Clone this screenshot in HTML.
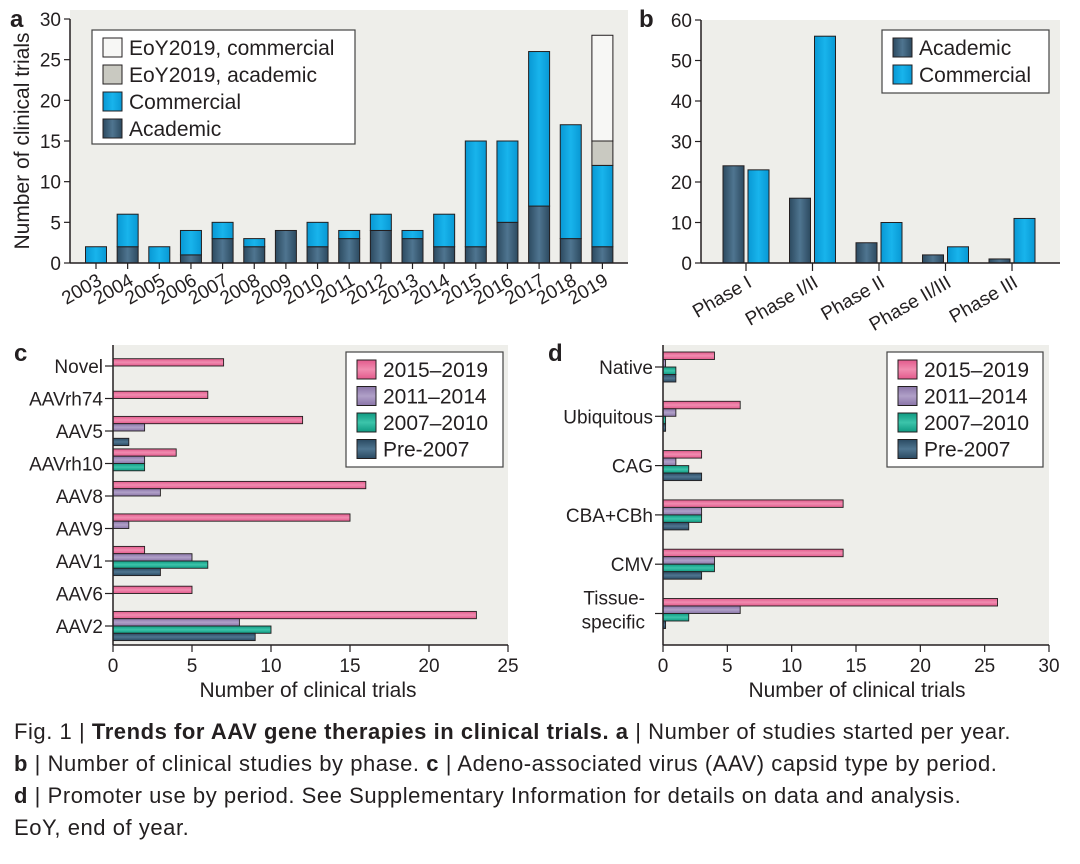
<!DOCTYPE html>
<html><head><meta charset="utf-8">
<style>
body{margin:0;background:#fff;width:1080px;height:864px;overflow:hidden;font-family:"Liberation Sans",sans-serif}
svg text{font-family:"Liberation Sans",sans-serif;fill:#231f20}
.cap{position:absolute;left:14px;top:716px;font-family:"Liberation Sans",sans-serif;font-size:22px;line-height:32px;color:#231f20;letter-spacing:0.55px;white-space:nowrap}
</style></head><body>
<svg id="fig" width="1080" height="700" style="position:absolute;left:0;top:0">
<defs>
<linearGradient id="gAc" x1="0" x2="1"><stop offset="0" stop-color="#2c4a60"/><stop offset="0.5" stop-color="#4f7590"/><stop offset="1" stop-color="#2c4a60"/></linearGradient>
<linearGradient id="gCo" x1="0" x2="1"><stop offset="0" stop-color="#0898d4"/><stop offset="0.5" stop-color="#18b4ec"/><stop offset="1" stop-color="#0898d4"/></linearGradient>
<linearGradient id="gPk" x1="0" x2="0" y1="0" y2="1"><stop offset="0" stop-color="#e35a8c"/><stop offset="0.5" stop-color="#f08cb0"/><stop offset="1" stop-color="#e35a8c"/></linearGradient>
<linearGradient id="gPu" x1="0" x2="0" y1="0" y2="1"><stop offset="0" stop-color="#8a75a8"/><stop offset="0.5" stop-color="#b0a0c8"/><stop offset="1" stop-color="#8a75a8"/></linearGradient>
<linearGradient id="gGr" x1="0" x2="0" y1="0" y2="1"><stop offset="0" stop-color="#0f9a82"/><stop offset="0.5" stop-color="#3cc4aa"/><stop offset="1" stop-color="#0f9a82"/></linearGradient>
<linearGradient id="gNv" x1="0" x2="0" y1="0" y2="1"><stop offset="0" stop-color="#2a4a62"/><stop offset="0.5" stop-color="#4f7590"/><stop offset="1" stop-color="#2a4a62"/></linearGradient>
</defs>
</svg>
<div class="cap">Fig. 1 | <b>Trends for AAV gene therapies in clinical trials. a</b> | Number of studies started per year.<br><b>b</b> | Number of clinical studies by phase. <b>c</b> | Adeno-associated virus (AAV) capsid type by period.<br><b>d</b> | Promoter use by period. See Supplementary Information for details on data and analysis.<br>EoY, end of year.</div>
<script>
const yearsA=["2003","2004","2005","2006","2007","2008","2009","2010","2011","2012","2013","2014","2015","2016","2017","2018","2019"];
const academicA=[0,2,0,1,3,2,4,2,3,4,3,2,2,5,7,3,2];
const commercialA=[2,4,2,3,2,1,0,3,1,2,1,4,13,10,19,14,10];
const eoyAcademicA=[0,0,0,0,0,0,0,0,0,0,0,0,0,0,0,0,3];
const eoyCommercialA=[0,0,0,0,0,0,0,0,0,0,0,0,0,0,0,0,13];
const ticksA=[0,5,10,15,20,25,30];
const phasesB=["Phase I","Phase I/II","Phase II","Phase II/III","Phase III"];
const academicB=[24,16,5,2,1];
const commercialB=[23,56,10,4,11];
const ticksB=[0,10,20,30,40,50,60];
const capsidsC=["Novel","AAVrh74","AAV5","AAVrh10","AAV8","AAV9","AAV1","AAV6","AAV2"];
const c2015=[7,6,12,4,16,15,2,5,23];
const c2011=[0,0,2,2,3,1,5,0,8];
const c2007=[0,0,0,2,0,0,6,0,10];
const cPre=[0,0,1,0,0,0,3,0,9];
const ticksC=[0,5,10,15,20,25];
const promotersD=["Native","Ubiquitous","CAG","CBA+CBh","CMV","Tissue-specific"];
const d2015=[4,6,3,14,14,26];
const d2011=[0.2,1,1,3,4,6];
const d2007=[1,0.2,2,3,4,2];
const dPre=[1,0.2,3,2,3,0.2];
const ticksD=[0,5,10,15,20,25,30];

const svg=document.getElementById('fig');const NS='http://www.w3.org/2000/svg';
function el(t,a,p){const e=document.createElementNS(NS,t);for(const k in a)e.setAttribute(k,a[k]);(p||svg).appendChild(e);return e;}
function txt(s,a,p){const e=el('text',a,p);e.textContent=s;return e;}
const STROKE='#231f20';

// ---------- Panel a ----------
const gA=el('g',{});


const ax0=70,axR=628,ay0=263,ayT=19;
const yA=v=>ay0-(v/30)*(ay0-ayT);
const xA=i=>96+i*31.65;
el('rect',{x:ax0,y:10,width:axR-ax0,height:ay0-10,fill:'#eeeeea'},gA);
txt('a',{x:10,y:27,'font-size':24,'font-weight':'bold'},gA);
ticksA.forEach(t=>{el('line',{x1:ax0-6,x2:ax0,y1:yA(t),y2:yA(t),stroke:STROKE,'stroke-width':1.2},gA);
 const l=txt(String(t),{x:ax0-9,y:yA(t)+7,'font-size':19,'text-anchor':'end'},gA);
 
 });
const yl=txt('Number of clinical trials',{x:0,y:0,'font-size':21,'text-anchor':'middle',transform:'translate(29,141) rotate(-90)'},gA);


yearsA.forEach((yr,i)=>{
 const x=xA(i),w=21;let base=0;
 [[academicA[i],'url(#gAc)','academic'],[commercialA[i],'url(#gCo)','commercial'],[eoyAcademicA[i],'#c9c9c1','eoy-academic'],[eoyCommercialA[i],'#f7f7f5','eoy-commercial']].forEach(([v,f,n])=>{
  if(v>0){const r=el('rect',{x:x-w/2,y:yA(base+v),width:w,height:yA(base)-yA(base+v),fill:f,stroke:STROKE,'stroke-width':1},gA);
  
  }
  base+=v;});
 el('line',{x1:x,x2:x,y1:ay0,y2:ay0+6,stroke:STROKE,'stroke-width':1.2},gA);
 const l=txt(yr,{x:0,y:0,'font-size':19,'text-anchor':'end',transform:`translate(${x+7},${ay0+21}) rotate(-30)`},gA);
 
 
});
el('line',{x1:ax0,x2:axR,y1:ay0,y2:ay0,stroke:STROKE,'stroke-width':1.5},gA);
el('line',{x1:ax0,x2:ax0,y1:ayT,y2:ay0,stroke:STROKE,'stroke-width':1.5},gA);
function legend(parent,x,y,w,h,items,dy,fs,name){
 const g=el('g',{},parent);
 
 
 el('rect',{x,y,width:w,height:h,fill:'#fff',stroke:'#444','stroke-width':1.2},g);
 items.forEach(([lab,f],k)=>{const cy=y+17+k*dy;
  el('rect',{x:x+11,y:cy-9,width:19,height:19,fill:f,stroke:STROKE,'stroke-width':1},g);
  txt(lab,{x:x+37,y:cy+8,'font-size':fs},g);});
}
legend(gA,92,30,263,114,[['EoY2019, commercial','#f7f7f5'],['EoY2019, academic','#c9c9c1'],['Commercial','url(#gCo)'],['Academic','url(#gAc)']],27,21,'legend-a');

// ---------- Panel b ----------
const gB=el('g',{});


const bx0=701,bxR=1060;
const yB=v=>ay0-(v/60)*(ay0-20);
const xB=i=>746+i*66.5;
el('rect',{x:bx0,y:20,width:bxR-bx0,height:ay0-20,fill:'#eeeeea'},gB);
txt('b',{x:639,y:27,'font-size':24,'font-weight':'bold'},gB);
ticksB.forEach(t=>{el('line',{x1:bx0-6,x2:bx0,y1:yB(t),y2:yB(t),stroke:STROKE,'stroke-width':1.2},gB);
 const l=txt(String(t),{x:bx0-9,y:yB(t)+7,'font-size':19,'text-anchor':'end'},gB);
 
 });
phasesB.forEach((p,i)=>{const x=xB(i);
 const r1=el('rect',{x:x-23,y:yB(academicB[i]),width:21,height:ay0-yB(academicB[i]),fill:'url(#gAc)',stroke:STROKE,'stroke-width':1},gB);
 
 
 const r2=el('rect',{x:x+2,y:yB(commercialB[i]),width:21,height:ay0-yB(commercialB[i]),fill:'url(#gCo)',stroke:STROKE,'stroke-width':1},gB);
 
 
 el('line',{x1:x,x2:x,y1:ay0,y2:ay0+8,stroke:STROKE,'stroke-width':1.2},gB);
 const l=txt(p,{x:0,y:0,'font-size':19,'text-anchor':'end',transform:`translate(${x+7},${ay0+23}) rotate(-30)`},gB);
 
 
});
el('line',{x1:bx0,x2:bxR,y1:ay0,y2:ay0,stroke:STROKE,'stroke-width':1.5},gB);
el('line',{x1:bx0,x2:bx0,y1:20,y2:ay0,stroke:STROKE,'stroke-width':1.5},gB);
legend(gB,882,30,167,63,[['Academic','url(#gAc)'],['Commercial','url(#gCo)']],27,21,'legend-b');

// ---------- horizontal panels ----------
const periodFills=['url(#gPk)','url(#gPu)','url(#gGr)','url(#gNv)'];
const periodNames=['2015-2019','2011-2014','2007-2010','pre-2007'];
function hpanel(name,letter,lx,x0,xR,maxV,ticks,cats,series,ty,barH,shiftSingle){
 const g=el('g',{});
 
 
 const base=645,top=345;
 const X=v=>x0+(v/maxV)*(xR-x0);
 el('rect',{x:x0,y:top,width:xR-x0,height:base-top,fill:'#eeeeea'},g);
 txt(letter,{x:lx,y:361,'font-size':24,'font-weight':'bold'},g);
 cats.forEach((c,i)=>{const y=ty(i);
  el('line',{x1:x0-8,x2:x0,y1:y,y2:y,stroke:STROKE,'stroke-width':1.2},g);
  const only=shiftSingle&&series.slice(1).every(s=>s[i]===0);
  series.forEach((s,k)=>{const v=s[i];if(v<=0)return;
   const slot=only?1:k;
   const r=el('rect',{x:x0,y:y-2*barH+slot*barH,width:X(v)-x0,height:barH,fill:periodFills[k],stroke:STROKE,'stroke-width':0.9},g);
   
   });
  if(c==='Tissue-specific'){
   txt('Tissue-',{x:x0-18,y:y-9,'font-size':19,'text-anchor':'end'},g);
   txt('specific',{x:x0-18,y:y+15,'font-size':19,'text-anchor':'end'},g);
  } else {
   const l=txt(c,{x:x0-10,y:y+7,'font-size':19,'text-anchor':'end'},g);
   
   }
 });
 ticks.forEach(t=>{el('line',{x1:X(t),x2:X(t),y1:base,y2:base+7,stroke:STROKE,'stroke-width':1.2},g);
  const l=txt(String(t),{x:X(t),y:base+27,'font-size':19,'text-anchor':'middle'},g);
  
  });
 el('line',{x1:x0,x2:xR,y1:base,y2:base,stroke:STROKE,'stroke-width':1.5},g);
 el('line',{x1:x0,x2:x0,y1:top,y2:base,stroke:STROKE,'stroke-width':1.5},g);
 const xt=txt('Number of clinical trials',{x:(x0+xR)/2,y:base+52,'font-size':21,'text-anchor':'middle'},g);
 
 
 return g;
}
const gC=hpanel('panel-c','c',14,113,508,25,ticksC,capsidsC,[c2015,c2011,c2007,cPre],i=>366+i*32.5,7.3,true);
gC.lastChild.setAttribute('x',308);
legend(gC,346,352,157,115,[['2015–2019','url(#gPk)'],['2011–2014','url(#gPu)'],['2007–2010','url(#gGr)'],['Pre-2007','url(#gNv)']],26.5,21,'legend-c');
const gD=hpanel('panel-d','d',548,663,1049,30,ticksD,promotersD,[d2015,d2011,d2007,dPre],i=>367+i*49.3,7.5,false);
gD.lastChild.setAttribute('x',857);
legend(gD,887,352,156,115,[['2015–2019','url(#gPk)'],['2011–2014','url(#gPu)'],['2007–2010','url(#gGr)'],['Pre-2007','url(#gNv)']],26.5,21,'legend-d');
</script>
</body></html>
